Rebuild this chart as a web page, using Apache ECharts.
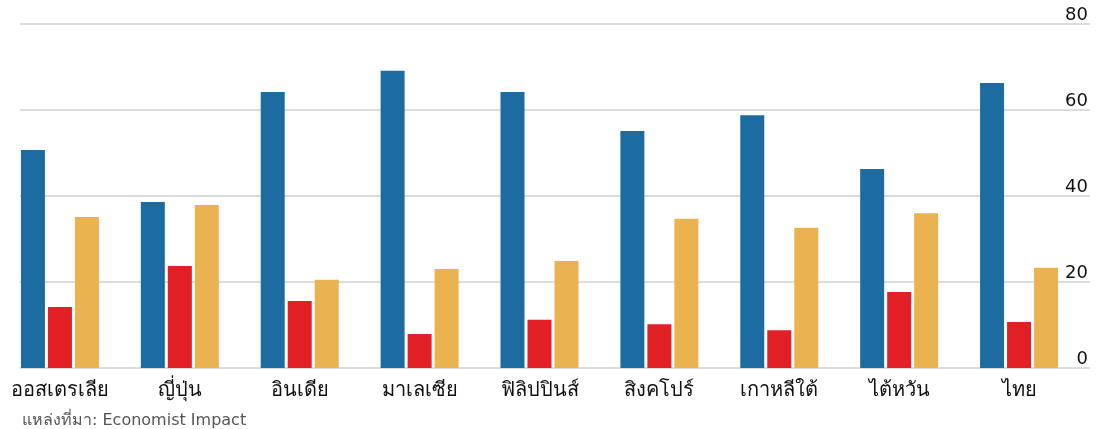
<!DOCTYPE html>
<html>
<head>
<meta charset="utf-8">
<script src="https://cdn.jsdelivr.net/npm/echarts@6/dist/echarts.min.js"></script>
<style>
  html, body { margin: 0; padding: 0; background: #fff; }
  #main { width: 1107px; height: 429px; }
</style>
</head>
<body>
<div id="main"></div>
<script>
// ประเทศ
var countries = ['ออสเตรเลีย', 'ญี่ปุ่น', 'อินเดีย', 'มาเลเซีย', 'ฟิลิปปินส์', 'สิงคโปร์', 'เกาหลีใต้', 'ไต้หวัน', 'ไทย'];
// ค่าของแต่ละชุด (อ่านจากภาพ)
var blueVals = [50.7, 38.6, 64.2, 69.1, 64.2, 55.1, 58.8, 46.3, 66.3];
var redVals = [14.2, 23.7, 15.6, 7.9, 11.2, 10.2, 8.8, 17.7, 10.7];
var yellowVals = [35.1, 37.9, 20.5, 23.0, 24.9, 34.7, 32.6, 36.0, 23.3];
var yTicks = [0, 20, 40, 60, 80];

var font = 'Tahoma, "DejaVu Sans", "Noto Sans", sans-serif';
var chart = echarts.init(document.getElementById('main'));

var option = {
    animation: false,
    textStyle: { fontFamily: font },
    title: {
        text: 'แหล่งที่มา: Economist Impact',
        left: 17,
        top: 408,
        textStyle: { fontSize: 16, fontWeight: 'normal', color: '#555', fontFamily: font }
    },
    grid: [
        // เส้นตาราง + แกน y
        { left: 20, width: 1070, top: 24, height: 344 },
        // แท่ง
        { left: -1, width: 1080, top: 24, height: 344 }
    ],
    xAxis: [
        { gridIndex: 0, type: 'value', show: false, min: 0, max: 1 },
        {
            gridIndex: 1,
            type: 'category',
            data: countries,
            axisLine: { show: false },
            axisTick: { show: false },
            axisLabel: { interval: 0, hideOverlap: false, color: '#111', fontSize: 20, margin: 13, fontFamily: font }
        }
    ],
    yAxis: [
        {
            gridIndex: 0,
            type: 'value',
            position: 'right',
            min: 0,
            max: 80,
            interval: 20,
            axisLine: { show: false },
            axisTick: { show: false },
            splitLine: { lineStyle: { color: '#dcdcdc', width: 2 } },
            axisLabel: {
                inside: true,
                margin: 2,
                verticalAlign: 'bottom',
                lineHeight: 18,
                padding: 0,
                color: '#111',
                fontSize: 18,
                fontFamily: font,
                formatter: function (v) { return yTicks.indexOf(v) >= 0 ? String(v) : ''; }
            }
        },
        { gridIndex: 1, type: 'value', show: false, min: 0, max: 80 }
    ],
    series: [
        { name: 'blue', type: 'bar', xAxisIndex: 1, yAxisIndex: 1, data: blueVals, barWidth: 24, barGap: '12.5%', itemStyle: { color: '#1c6ca1' } },
        { name: 'red', type: 'bar', xAxisIndex: 1, yAxisIndex: 1, data: redVals, barWidth: 24, barGap: '12.5%', itemStyle: { color: '#e31f26' } },
        { name: 'yellow', type: 'bar', xAxisIndex: 1, yAxisIndex: 1, data: yellowVals, barWidth: 24, barGap: '12.5%', itemStyle: { color: '#ebb34f' } }
    ]
};

chart.setOption(option);
</script>
</body>
</html>
